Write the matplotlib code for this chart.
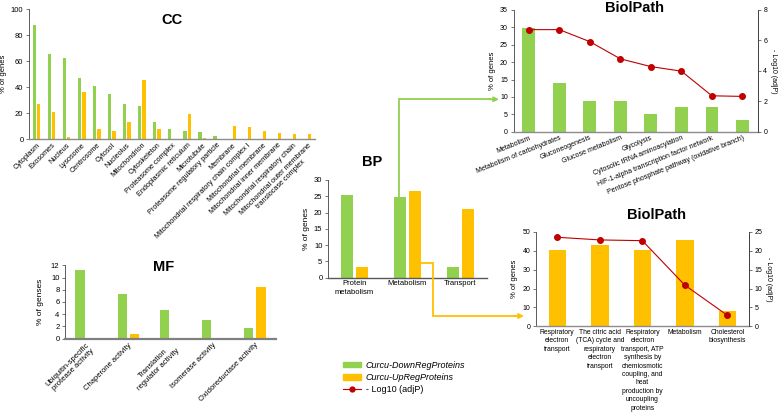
import matplotlib
matplotlib.use("Agg")
import matplotlib.pyplot as plt
import numpy as np
from matplotlib.lines import Line2D
from matplotlib.patches import Patch, FancyArrowPatch

plt.rcParams['font.family'] = ['Liberation Sans', 'DejaVu Sans']

GREEN = '#92D050'
YELLOW = '#FFC000'
RED = '#C00000'

# ---------------- data ----------------
cc_labels = ["Cytoplasm", "Exosomes", "Nucleus", "Lysosome", "Centrosome", "Cytosol",
             "Nucleolus", "Mitochondrion", "Cytoskeleton", "Proteasome complex",
             "Endoplasmic reticulum", "Microtubule", "Proteasome regulatory particle",
             "Membrane", "Mitochondrial respiratory chain complex I",
             "Mitochondrial membrane", "Mitochondrial inner membrane",
             "Mitochondrial respiratory chain",
             "Mitochondrial outer membrane\ntranslocase complex"]
cc_down = [87.5, 65.4, 62, 47, 41, 35, 26.8, 25.2, 12.8, 7.7, 5.9, 5.1, 2.3,
           0, 0, 0, 0, 0, 0]
cc_up = [27.2, 21, 1.5, 35.9, 7.7, 6.4, 13.3, 45.6, 7.7, 0, 19.2, 0.5, 0,
         9.7, 9.2, 6.4, 4.9, 4.1, 3.6]

mf_labels = ["Ubiquitin-specific\nprotease activity", "Chaperone activity",
             "Translation\nregulator activity", "Isomerase activity",
             "Oxidoreductase activity"]
mf_down = [11.2, 7.3, 4.75, 3.05, 1.75]
mf_up = [0, 0.76, 0, 0, 8.5]

bp_labels = ["Protein\nmetabolism", "Metabolism", "Transport"]
bp_down = [25.4, 24.9, 3.4]
bp_up = [3.4, 26.6, 21.1]

bio1_labels = ["Metabolism", "Metabolism of carbohydrates", "Gluconeogenesis",
               "Glucose metabolism", "Glycolysis", "Cytosolic tRNA aminoacylation",
               "HIF-1-alpha transcription factor network",
               "Pentose phosphate pathway (oxidative branch)"]
bio1_pct = [29.7, 14.0, 8.7, 8.7, 5.2, 7.0, 7.0, 3.4]
bio1_logp = [6.71, 6.71, 5.92, 4.79, 4.28, 3.98, 2.36, 2.32]

bio2_labels = ["Respiratory\nelectron\ntransport",
               "The citric acid\n(TCA) cycle and\nrespiratory\nelectron\ntransport",
               "Respiratory\nelectron\ntransport, ATP\nsynthesis by\nchemiosmotic\ncoupling, and\nheat\nproduction by\nuncoupling\nproteins",
               "Metabolism", "Cholesterol\nbiosynthesis"]
bio2_pct = [40.5, 43.3, 40.5, 45.9, 8.3]
bio2_logp = [23.6, 22.9, 22.7, 10.9, 2.9]

# ---------------- layout helpers ----------------
W, H = 778, 413
fig = plt.figure(figsize=(W / 100, H / 100), dpi=100)


def rect(x0, ytop, x1, ybot):
    return [x0 / W, 1 - ybot / H, (x1 - x0) / W, (ybot - ytop) / H]


def P(x, y):
    return (x / W, 1 - y / H)


def style(ax, bottom_lw=1.0, bottom_color='#8c8c8c', right=False):
    ax.spines['top'].set_visible(False)
    ax.spines['right'].set_visible(right)
    ax.spines['left'].set_color('#404040')
    ax.spines['left'].set_linewidth(0.6)
    ax.spines['bottom'].set_color(bottom_color)
    ax.spines['bottom'].set_linewidth(bottom_lw)
    ax.tick_params(axis='y', length=2, width=0.5, color='#404040', pad=2)
    ax.tick_params(axis='x', length=0, pad=2)
    ax.set_facecolor('none')


OFF, BW = 0.145, 0.22

# ---------------- CC ----------------
ax = fig.add_axes(rect(29, 9, 315, 139))
x = np.arange(len(cc_labels))
ax.bar(x - OFF, cc_down, BW, color=GREEN)
ax.bar(x + OFF, cc_up, BW, color=YELLOW)
ax.set_xlim(-0.5, len(cc_labels) - 0.5)
ax.set_ylim(0, 100)
ax.set_yticks(range(0, 101, 20))
ax.tick_params(axis='y', labelsize=5.5)
ax.set_xticks(x)
ax.set_xticklabels(cc_labels, rotation=45, ha='right', rotation_mode='anchor',
                   fontsize=5.2, multialignment='center')
ax.set_ylabel("% of genes", fontsize=5.5, labelpad=3)
style(ax)
fig.text(*P(172, 20), "CC", fontsize=10.5, fontweight='bold', ha='center', va='center')

# ---------------- MF ----------------
ax = fig.add_axes(rect(65, 265.3, 276, 338.7))
x = np.arange(len(mf_labels))
ax.bar(x - OFF, mf_down, BW, color=GREEN)
ax.bar(x + OFF, mf_up, BW, color=YELLOW)
ax.set_xlim(-0.5, len(mf_labels) - 0.5)
ax.set_ylim(0, 12)
ax.set_yticks(range(0, 13, 2))
ax.tick_params(axis='y', labelsize=5.5)
ax.set_xticks(x)
ax.set_xticklabels(mf_labels, rotation=45, ha='right', rotation_mode='anchor',
                   fontsize=5.5, multialignment='center')
ax.set_ylabel("% of genses", fontsize=6, labelpad=5)
style(ax, bottom_lw=1.6, bottom_color='#808080')
fig.text(*P(164, 267), "MF", fontsize=10.5, fontweight='bold', ha='center', va='center')

# ---------------- BP ----------------
ax = fig.add_axes(rect(328, 180, 487, 277.7))
x = np.arange(len(bp_labels))
ax.bar(x - OFF, bp_down, BW, color=GREEN)
ax.bar(x + OFF, bp_up, BW, color=YELLOW)
ax.set_xlim(-0.5, len(bp_labels) - 0.5)
ax.set_ylim(0, 30)
ax.set_yticks(range(0, 31, 5))
ax.tick_params(axis='y', labelsize=5.5)
ax.set_xticks(x)
ax.set_xticklabels(bp_labels, fontsize=5.5, linespacing=1.4)
ax.tick_params(axis='x', pad=6)
ax.set_ylabel("% of genes", fontsize=6, labelpad=3)
style(ax, bottom_lw=1.0, bottom_color='#595959')
fig.text(*P(372, 162), "BP", fontsize=10.5, fontweight='bold', ha='center', va='center')

# ---------------- BiolPath (top) ----------------
ax = fig.add_axes(rect(513.5, 10, 757.7, 131.7))
x = np.arange(len(bio1_labels))
ax.bar(x, bio1_pct, 0.42, color=GREEN)
ax.set_xlim(-0.5, len(bio1_labels) - 0.5)
ax.set_ylim(0, 35)
ax.set_yticks(range(0, 36, 5))
ax.tick_params(axis='y', labelsize=5)
ax.set_xticks(x)
ax.set_xticklabels(bio1_labels, rotation=22, ha='right', rotation_mode='anchor',
                   fontsize=5)
ax.set_ylabel("% of genes", fontsize=5.5, labelpad=3)
style(ax, right=True)
ax.spines['right'].set_color('#404040')
ax.spines['right'].set_linewidth(0.6)
ax2 = ax.twinx()
ax2.plot(x, bio1_logp, color=RED, lw=0.8, marker='o', ms=4, mfc=RED, mec=RED)
ax2.set_ylim(0, 8)
ax2.set_yticks(range(0, 9, 2))
ax2.tick_params(axis='y', labelsize=5, length=2, width=0.5, color='#404040', pad=2)
ax2.set_ylabel("- Log10 (adjP)", fontsize=5, rotation=270, labelpad=7)
for s in ['top', 'left', 'bottom']:
    ax2.spines[s].set_visible(False)
ax2.spines['right'].set_color('#404040')
ax2.spines['right'].set_linewidth(0.6)
fig.text(*P(635, 8.5), "BiolPath", fontsize=10.5, fontweight='bold', ha='center', va='center')

# ---------------- BiolPath (bottom) ----------------
ax = fig.add_axes(rect(536, 232, 748.7, 326.3))
x = np.arange(len(bio2_labels))
ax.bar(x, bio2_pct, 0.41, color=YELLOW)
ax.set_xlim(-0.5, len(bio2_labels) - 0.5)
ax.set_ylim(0, 50)
ax.set_yticks(range(0, 51, 10))
ax.tick_params(axis='y', labelsize=5)
ax.set_xticks(x)
ax.set_xticklabels(bio2_labels, fontsize=4.9, linespacing=1.28, va='top')
ax.tick_params(axis='x', pad=5)
ax.set_ylabel("% of genes", fontsize=5.5, labelpad=3)
style(ax, right=True)
ax.spines['right'].set_color('#404040')
ax.spines['right'].set_linewidth(0.6)
ax2 = ax.twinx()
ax2.plot(x, bio2_logp, color=RED, lw=0.8, marker='o', ms=4, mfc=RED, mec=RED)
ax2.set_ylim(0, 25)
ax2.set_yticks(range(0, 26, 5))
ax2.tick_params(axis='y', labelsize=5, length=2, width=0.5, color='#404040', pad=2)
ax2.set_ylabel("- Log10 (adjP)", fontsize=5, rotation=270, labelpad=7)
for s in ['top', 'left', 'bottom']:
    ax2.spines[s].set_visible(False)
ax2.spines['right'].set_color('#404040')
ax2.spines['right'].set_linewidth(0.6)
fig.text(*P(657, 215), "BiolPath", fontsize=10.5, fontweight='bold', ha='center', va='center')

# ---------------- connector arrows ----------------
gpts = [P(399.3, 197), P(399.3, 99.3), P(490, 99.3)]
fig.add_artist(Line2D([p[0] for p in gpts], [p[1] for p in gpts], color=GREEN, lw=1.3,
                      transform=fig.transFigure, solid_joinstyle='miter'))
fig.add_artist(FancyArrowPatch(P(489, 99.3), P(499, 99.3), transform=fig.transFigure,
                               arrowstyle='-|>', mutation_scale=7, color=GREEN, lw=1.3,
                               shrinkA=0, shrinkB=0))
ypts = [P(421, 263.3), P(432.7, 263.3), P(432.7, 316), P(515, 316)]
fig.add_artist(Line2D([p[0] for p in ypts], [p[1] for p in ypts], color=YELLOW, lw=1.3,
                      transform=fig.transFigure, solid_joinstyle='miter'))
fig.add_artist(FancyArrowPatch(P(514, 316), P(524, 316), transform=fig.transFigure,
                               arrowstyle='-|>', mutation_scale=7, color=YELLOW, lw=1.3,
                               shrinkA=0, shrinkB=0))

# ---------------- legend ----------------
handles = [Patch(color=GREEN), Patch(color=YELLOW),
           Line2D([], [], color=RED, lw=0.8, marker='o', ms=3.5)]
leg = fig.legend(handles, ["Curcu-DownRegProteins", "Curcu-UpRegProteins", "- Log10 (adjP)"],
                 loc='upper left', bbox_to_anchor=P(343, 361), frameon=False,
                 fontsize=6.5, handlelength=2.0, handleheight=0.5, handletextpad=0.5,
                 labelspacing=0.35, borderpad=0, borderaxespad=0)
leg.get_texts()[0].set_style('italic')
leg.get_texts()[1].set_style('italic')

fig.savefig("out.png", dpi=100)
